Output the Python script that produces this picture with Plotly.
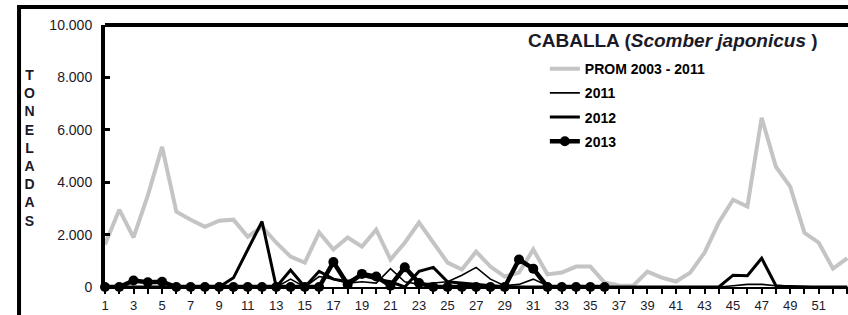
import plotly.graph_objects as go

weeks = list(range(1, 54))

prom_2003_2011 = [1620, 2950, 1890, 3500, 5350, 2870, 2570, 2300, 2530, 2570,
                  1920, 2300, 1690, 1160, 930, 2080, 1430, 1890, 1540, 2190,
                  1050, 1690, 2460, 1690, 930, 670, 1350, 780, 400, 550,
                  1430, 480, 550, 780, 780, 170, 60, 50, 590, 360,
                  210, 550, 1310, 2460, 3330, 3070, 6460, 4590, 3830, 2070,
                  1690, 700, 1100]

y2011 = [0, 0, 0, 0, 0, 0, 0, 0, 0, 0,
         0, 0, 0, 300, 0, 400, 300, 150, 200, 150,
         700, 200, 100, 150, 200, 450, 750, 300, 50, 100,
         300, 50, 0, 0, 0, 0, 0, 0, 0, 0,
         0, 0, 0, 0, 50, 100, 100, 50, 50, 20,
         0, 0, 0]

y2012 = [0, 0, 0, 0, 0, 0, 0, 0, 0, 350,
         1450, 2500, 0, 650, 0, 600, 300, 200, 450, 300,
         200, 0, 600, 750, 200, 150, 100, 50, 0, 0,
         0, 0, 0, 0, 0, 0, 0, 0, 0, 0,
         0, 0, 0, 0, 450, 430, 1100, 50, 0, 0,
         0, 0, 0]

weeks_2013 = list(range(1, 37))
y2013 = [0, 0, 250, 180, 200, 0, 0, 0, 0, 0,
         0, 0, 0, 0, 0, 0, 950, 100, 500, 400,
         50, 750, 150, 0, 0, 0, 0, 0, 0, 1050,
         700, 0, 0, 0, 0, 0]

y_tickvals = [0, 2000, 4000, 6000, 8000, 10000]
y_ticktext = ["0", "2.000", "4.000", "6.000", "8.000", "10.000"]
x_tickvals = list(range(1, 54, 2))
x_ticktext = [str(v) for v in x_tickvals]

FONT = "Liberation Sans, Arial, sans-serif"

fig = go.Figure()
fig.add_trace(go.Scatter(x=weeks, y=prom_2003_2011, mode="lines", name="PROM 2003 - 2011",
                         line=dict(color="#c4c4c4", width=4), legendgroup="a", cliponaxis=False))
fig.add_trace(go.Scatter(x=weeks, y=y2011, mode="lines", name="2011",
                         line=dict(color="black", width=1.6), legendgroup="b", cliponaxis=False))
fig.add_trace(go.Scatter(x=weeks, y=y2012, mode="lines", name="2012",
                         line=dict(color="black", width=3), legendgroup="c", cliponaxis=False))
fig.add_trace(go.Scatter(x=weeks_2013, y=y2013, mode="lines+markers", name="2013",
                         line=dict(color="black", width=4.5),
                         marker=dict(size=10, color="black"), legendgroup="d", cliponaxis=False))

fig.update_layout(
    width=848, height=315,
    margin=dict(l=105, r=0, t=25, b=27.5, autoexpand=False),
    paper_bgcolor="white", plot_bgcolor="white",
    font=dict(family=FONT, color="#1a1a2a"),
    showlegend=True,
    legend=dict(x=0.592, y=0.893, xanchor="left", yanchor="top",
                bgcolor="rgba(0,0,0,0)", tracegroupgap=3,
                font=dict(family=FONT, size=14, color="black", weight="bold")),
    xaxis=dict(range=[1, 53.05], tickvals=x_tickvals, ticktext=x_ticktext,
               ticks="outside", ticklen=5, tickwidth=1.5, tickcolor="black",
               showline=True, linecolor="black", linewidth=2,
               showgrid=False, zeroline=False,
               tickfont=dict(size=13, color="#1a1a2a"),
               minor=dict(dtick=1, tick0=0, ticks="outside", ticklen=5,
                          tickwidth=1.5, tickcolor="black", showgrid=False)),
    yaxis=dict(range=[0, 10000], tickvals=y_tickvals, ticktext=y_ticktext,
               ticks="inside", ticklen=5, tickwidth=2.5, tickcolor="black",
               showline=True, linecolor="black", linewidth=4,
               showgrid=False, zeroline=False, ticklabelstandoff=6,
               tickfont=dict(size=14, color="#1a1a2a")),
    shapes=[
        dict(type="rect", xref="paper", yref="paper",
             x0=-0.1157, y0=-0.4, x1=1.3, y1=1.0686,
             line=dict(color="black", width=4)),
        dict(type="line", xref="paper", yref="paper",
             x0=0, y0=1, x1=1.2, y1=1,
             line=dict(color="black", width=4)),
    ],
    annotations=[
        dict(text="CABALLA (<i>Scomber japonicus</i> )", xref="paper", yref="paper",
             x=0.764, y=0.939, xanchor="center", yanchor="middle", showarrow=False,
             font=dict(family=FONT, size=19, color="#1a1a2a", weight="bold")),
        dict(text="T<br>O<br>N<br>E<br>L<br>A<br>D<br>A<br>S", xref="paper", yref="paper",
             x=-0.101, y=0.531, xanchor="center", yanchor="middle", showarrow=False,
             font=dict(family=FONT, size=14, color="#1a1a2a", weight="bold")),
    ],
)

fig.write_html("out.html", config={"displayModeBar": False},
               post_script="document.body.style.margin='0';document.body.style.overflow='hidden';")
